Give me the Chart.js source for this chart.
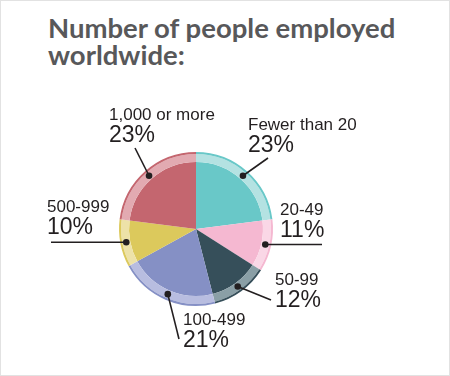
<!DOCTYPE html>
<html>
<head>
<meta charset="utf-8">
<script src="https://cdn.jsdelivr.net/npm/chart.js@4.4.1/dist/chart.umd.min.js"></script>
<style>
    html, body { margin: 0; padding: 0; background: #fff; }
    .frame {
        position: relative;
        width: 448px;
        height: 374px;
        border: 1px solid #e2e2e2;
        overflow: hidden;
    }
    .title {
        position: absolute;
        left: 47px;
        top: 13px;
        font-family: Lato, sans-serif;
        font-weight: 700;
        font-size: 27.5px;
        line-height: 27px;
        color: #58585a;
    }
    #pie { position: absolute; left: -1px; top: -1px; }
</style>
</head>
<body>
<div class="frame">
    <div class="title">Number of people employed<br>worldwide:</div>
    <canvas id="pie" width="450" height="376"></canvas>
</div>
<script>
/* ===============================
   DATA
================================ */
const categories = ['Fewer than 20', '20-49', '50-99', '100-499', '500-999', '1,000 or more'];
const shares = [23, 11, 12, 21, 10, 23];

const mainColors = ['#69c8c8', '#f5b8d1', '#364f5a', '#8590c5', '#dcc95c', '#c4666f'];
const bandColors = ['#b4e2e2', '#fad7e6', '#8a9fa6', '#b8bde0', '#ede2a8', '#e2aab1'];

// where each label sits and where its leader line ends
const labelLayout = [
    { x: 248, y: 130, end: [268, 158] },
    { x: 280, y: 215, end: [322, null] },
    { x: 275, y: 285, end: [271, 300] },
    { x: 183, y: 325, end: [179, 339] },
    { x: 47,  y: 212, end: [51, null] },
    { x: 109, y: 120, end: [135, 148] }
];

/* ===============================
   LABEL PLUGIN
================================ */
const calloutPlugin = {
    id: 'callouts',
    afterDraw(chart) {
        const ctx = chart.ctx;
        const band = chart.getDatasetMeta(1);

        band.data.forEach((arc, i) => {
            const p = arc.getProps(['x', 'y', 'startAngle', 'endAngle', 'innerRadius', 'outerRadius'], true);
            const mid = (p.startAngle + p.endAngle) / 2;
            const r = (p.innerRadius + p.outerRadius) / 2;
            const dx = p.x + Math.cos(mid) * r;
            const dy = p.y + Math.sin(mid) * r;
            const lay = labelLayout[i];
            const ex = lay.end[0];
            const ey = lay.end[1] === null ? dy : lay.end[1];

            ctx.save();
            ctx.strokeStyle = '#231f20';
            ctx.lineWidth = 1.6;
            ctx.beginPath();
            ctx.moveTo(dx, dy);
            ctx.lineTo(ex, ey);
            ctx.stroke();

            ctx.fillStyle = '#231f20';
            ctx.beginPath();
            ctx.arc(dx, dy, 3.3, 0, Math.PI * 2);
            ctx.fill();

            ctx.textAlign = 'left';
            ctx.textBaseline = 'alphabetic';
            ctx.font = '17px "Liberation Sans", sans-serif';
            ctx.fillText(categories[i], lay.x, lay.y);
            ctx.font = '23px "Liberation Sans", sans-serif';
            ctx.fillText(shares[i] + '%', lay.x, lay.y + 22);
            ctx.restore();
        });
    }
};

/* ===============================
   CHART
================================ */
new Chart(document.getElementById('pie'), {
    type: 'pie',
    data: {
        labels: categories,
        datasets: [
            { data: shares, backgroundColor: mainColors, borderWidth: 0, weight: 2 },
            { data: shares, backgroundColor: bandColors, borderWidth: 0, weight: 8 },
            { data: shares, backgroundColor: mainColors, borderWidth: 0, weight: 67 }
        ]
    },
    options: {
        responsive: false,
        animation: false,
        layout: { padding: { left: 119, right: 177, top: 152, bottom: 70 } },
        plugins: {
            legend: { display: false },
            tooltip: { enabled: false }
        }
    },
    plugins: [calloutPlugin]
});
</script>
</body>
</html>
